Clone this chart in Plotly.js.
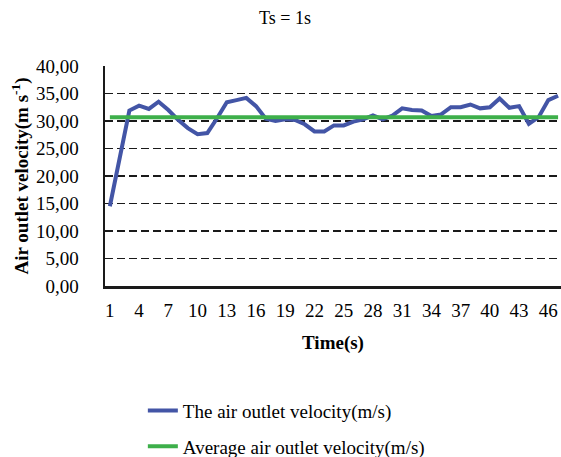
<!DOCTYPE html>
<html>
<head>
<meta charset="utf-8">
<script src="https://cdn.plot.ly/plotly-3.0.1.min.js"></script>
<style>html,body{margin:0;padding:0;background:#fff;}#chart{width:561px;height:457px;}</style>
</head>
<body>
<div id="chart"></div>
<script>
// Time (s)
const timeS = [1,2,3,4,5,6,7,8,9,10,11,12,13,14,15,16,17,18,19,20,21,22,23,24,25,26,27,28,29,30,31,32,33,34,35,36,37,38,39,40,41,42,43,44,45,46,47];
// The air outlet velocity (m/s)
const velocity = [14.5,23.2,31.9,32.8,32.2,33.5,32.0,30.2,28.7,27.6,27.8,30.5,33.4,33.8,34.2,32.7,30.4,30.0,30.3,30.2,29.4,28.1,28.1,29.2,29.2,29.9,30.3,31.0,30.3,31.0,32.3,32.0,31.9,30.9,31.2,32.5,32.5,33.0,32.3,32.5,34.1,32.4,32.7,29.5,30.7,33.8,34.6];
// Average air outlet velocity (m/s)
const averageVelocity = 30.7;
const averageSeries = timeS.map(() => averageVelocity);
// Tick labels
const xTicks = [1,4,7,10,13,16,19,22,25,28,31,34,37,40,43,46];
const yTicks = [0,5,10,15,20,25,30,35,40];

const serif = 'Liberation Serif';

const traces = [
  {x: timeS, y: velocity, type: 'scatter', mode: 'lines', name: 'The air outlet velocity(m/s)',
   line: {color: '#4355A6', width: 4}, legendgroup: 'a'},
  {x: timeS, y: averageSeries, type: 'scatter', mode: 'lines', name: 'Average air outlet velocity(m/s)',
   line: {color: '#3DAF4A', width: 4}, legendgroup: 'b'}
];

const layout = {
  width: 561, height: 457,
  margin: {l: 105, r: 0, t: 66, b: 171, autoexpand: false},
  paper_bgcolor: '#fff', plot_bgcolor: '#fff',
  separators: ',.',
  font: {family: serif, color: '#000', size: 19},
  title: {text: 'Ts = 1s', font: {family: serif, size: 18, color: '#000'},
          x: 0.508, xref: 'container', xanchor: 'center', y: 1 - 18/457, yref: 'container', yanchor: 'middle'},
  xaxis: {
    range: [0.5, 47.3], tickmode: 'array', tickvals: xTicks, ticktext: xTicks.map(String),
    showline: true, linecolor: '#1a1a1a', linewidth: 2.5, showgrid: false, zeroline: false,
    ticks: '', ticklabelstandoff: 6, tickfont: {family: serif, size: 19, color: '#000'},
    title: {text: '<b>Time(s)</b>', font: {family: serif, size: 19, color: '#000'}, standoff: 16}
  },
  yaxis: {
    range: [0, 40], tickmode: 'array', tickvals: yTicks, tickformat: '.2f',
    showline: true, linecolor: '#1a1a1a', linewidth: 2.5, zeroline: false,
    showgrid: true, gridcolor: '#1a1a1a', gridwidth: 1.6, griddash: '8px,4px',
    ticks: '', ticklabelstandoff: 20, tickfont: {family: serif, size: 19, color: '#000'},
    title: {text: '<b>Air outlet velocity(m s<sup>-1</sup>)</b>', font: {family: serif, size: 19, color: '#000'}, standoff: 3}
  },
  showlegend: true,
  legend: {orientation: 'v', x: 0.083, xanchor: 'left', y: -0.48, yanchor: 'top',
           font: {family: serif, size: 19, color: '#000'}, tracegroupgap: 8, bgcolor: 'rgba(0,0,0,0)'}
};

Plotly.newPlot('chart', traces, layout, {displayModeBar: false, staticPlot: true});
</script>
</body>
</html>
